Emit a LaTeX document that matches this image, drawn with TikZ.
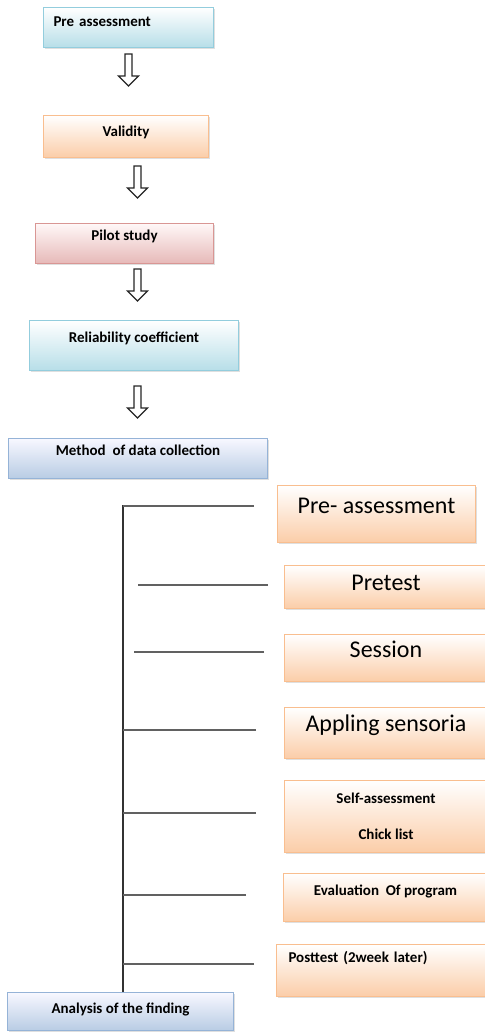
\documentclass[tikz,border=0pt]{standalone}
\usepackage{fontspec}
\setmainfont{Carlito}
\usetikzlibrary{shadows}

\definecolor{cyanline}{HTML}{93CDDD}
\definecolor{cyanbot}{HTML}{B7DEE8}
\definecolor{orangeline}{HTML}{F9BE8F}
\definecolor{orangebot}{HTML}{FBCDA8}
\definecolor{redline}{HTML}{D99694}
\definecolor{redbot}{HTML}{E6B9B8}
\definecolor{blueline}{HTML}{95B3D7}
\definecolor{bluebot}{HTML}{B8CCE4}

\tikzset{
  box/.style = {rectangle, draw, line width=1pt, anchor=north west,
    inner xsep=0pt, inner ysep=0pt, align=center,
    drop shadow={shadow xshift=1.5pt, shadow yshift=-1.5pt, opacity=0.25}},
  cyanbox/.style = {box, draw=cyanline, top color=white, bottom color=cyanbot},
  orangebox/.style = {box, draw=orangeline, top color=white, bottom color=orangebot},
  redbox/.style = {box, draw=redline, top color=red!3, bottom color=redbot},
  bluebox/.style = {box, draw=blueline, top color=blue!3, bottom color=bluebot},
  smalltext/.style = {font=\fontsize{15}{18}\selectfont\bfseries},
  bigtext/.style = {font=\fontsize{24}{28}\selectfont},
  trunk/.style = {line width=1.6pt, black!80},
  branch/.style = {line width=2pt, black!62},
  blockarrow/.pic = {
    \draw[fill=white, line width=1.3pt, draw=black!85]
      (-3.5,0) -- (-3.5,22) -- (-10,22) -- (0,32) -- (10,22)
      -- (3.5,22) -- (3.5,0) -- cycle;}
}

\begin{document}
\begin{tikzpicture}[x=1pt, y=-1pt]
  \useasboundingbox (0,0) rectangle (484,1032);

  % steps before the data collection
  \node[cyanbox, smalltext, align=left, inner xsep=10pt, text width=150pt,
    text height=19pt, text depth=21pt] (pre) at (43,7) {Pre assessment};
  \node[orangebox, smalltext, minimum width=165pt,
    text height=21pt, text depth=21pt] (val) at (43,115) {Validity};
  \node[redbox, smalltext, minimum width=178pt,
    text height=17pt, text depth=23pt] (pil) at (35,223) {Pilot study};
  \node[cyanbox, smalltext, minimum width=209pt,
    text height=22pt, text depth=28pt] (rel) at (29,320) {Reliability coefficient};
  \node[bluebox, smalltext, minimum width=259pt,
    text height=17pt, text depth=23pt] (met) at (8,438) {Method\ \ of data collection};

  \path (pre.south) ++(0,6) pic {blockarrow};
  \path (val.south) ++(11.5,8) pic {blockarrow};
  \path (pil.south) ++(13,5) pic {blockarrow};
  \path (rel.south) ++(3.5,15) pic {blockarrow};

  % data collection steps
  \node[orangebox, bigtext, minimum width=198pt,
    text height=28pt, text depth=29pt] (pa) at (277,485) {Pre- assessment};
  \node[orangebox, bigtext, minimum width=203pt,
    text height=25pt, text depth=18pt] (pt) at (284,565) {Pretest};
  \node[orangebox, bigtext, minimum width=203pt,
    text height=23pt, text depth=24pt] (se) at (284,634) {Session};
  \node[orangebox, bigtext, minimum width=203pt,
    text height=24pt, text depth=27pt] (ap) at (284,707) {Appling sensoria};
  \node[orangebox, smalltext, minimum width=203pt,
    text height=59pt, text depth=13pt] (sa) at (284,780) {Self-assessment\\[18pt]Chick list};
  \node[orangebox, smalltext, minimum width=204pt,
    text height=22pt, text depth=26pt] (ev) at (283,873) {Evaluation\ \ Of program};
  \node[orangebox, smalltext, align=left, inner xsep=12pt, text width=187pt,
    text height=18pt, text depth=34pt] (po) at (276,944) {Posttest (2week later)};
  \node[bluebox, smalltext, minimum width=226pt,
    text height=21pt, text depth=17pt] (ana) at (7,992) {Analysis of the finding};

  % trunk and branches
  \coordinate (top) at (123,505);
  \draw[trunk] (top) -- (top |- ana.north);
  \draw[branch] ([xshift=-23pt,yshift=8.5pt]pa.west) -- ++(-131,0);
  \draw[branch] ([xshift=-16pt,yshift=2.5pt]pt.west) -- ++(-130,0);
  \draw[branch] ([xshift=-20pt,yshift=6.5pt]se.west) -- ++(-130,0);
  \draw[branch] ([xshift=-28pt,yshift=3.5pt]ap.west) -- ++(-133,0);
  \draw[branch] ([xshift=-28pt,yshift=4pt]sa.west) -- ++(-133,0);
  \draw[branch] ([xshift=-37pt,yshift=3pt]ev.west) -- ++(-123,0);
  \draw[branch] ([xshift=-22pt,yshift=7pt]po.west) -- ++(-131,0);
\end{tikzpicture}
\end{document}
